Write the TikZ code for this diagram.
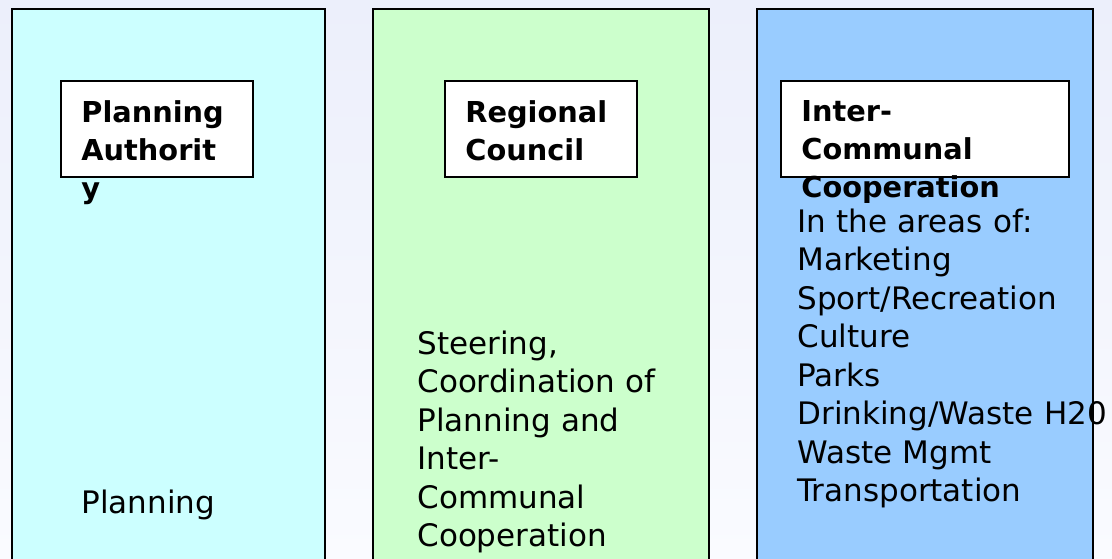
\documentclass[tikz,border=0pt]{standalone}
\usepackage{fontspec}
\setmainfont{DejaVu Sans}

\definecolor{bgtop}{RGB}{236,239,251}
\definecolor{bgbottom}{RGB}{250,251,255}
\definecolor{planfill}{RGB}{204,255,255}
\definecolor{councilfill}{RGB}{204,255,204}
\definecolor{coopfill}{RGB}{153,204,255}

\begin{document}
\begin{tikzpicture}[x=0.5pt,y=-0.5pt]
                \tikzstyle{column}=[draw=black,line width=1.1pt]
                \tikzstyle{titlebox}=[rectangle,draw=black,fill=white,line width=1.1pt,minimum width=96pt,minimum height=48pt,inner sep=0pt]
                \tikzstyle{titletext}=[anchor=base west,inner sep=0pt,text width=200pt,align=left,font=\bfseries\fontsize{14.4}{19}\selectfont]
                \tikzstyle{bodytext}=[anchor=base west,inner sep=0pt,text width=200pt,align=left,font=\fontsize{15.5}{19.25}\selectfont]

                \useasboundingbox (0,0) rectangle (1112,558);
                \shade[top color=bgtop,bottom color=bgbottom] (0,0) rectangle (1112,558);
                \clip (0,0) rectangle (1112,558);

                % the three columns
                \draw[column,fill=planfill] (12,9) rectangle (325,580);
                \draw[column,fill=councilfill] (373,9) rectangle (709,580);
                \draw[column,fill=coopfill] (757,9) rectangle (1093,580);

                % title boxes
                        \node[titlebox] (B-1) at (157,129){};
                        \node[titlebox] (B-2) at (541,129){};
                        \node[titlebox,minimum width=144pt] (B-3) at (925,129){};

                        \node[titletext] (T-1) at (81,122){Planning\\Authorit\\y};
                        \node[titletext] (T-2) at (465,122){Regional\\Council};
                        \node[titletext] (T-3) at (801,121){Inter-\\Communal\\Cooperation};

                % column texts
                        \node[bodytext] (X-1) at (81,513){Planning};
                        \node[bodytext] (X-2) at (417,354){Steering,\\Coordination of\\Planning and\\Inter-\\Communal\\Cooperation};
                        \node[bodytext] (X-3) at (797,232){In the areas of:\\Marketing\\Sport/Recreation\\Culture\\Parks\\Drinking/Waste H20\\Waste Mgmt\\Transportation};
\end{tikzpicture}
\end{document}
